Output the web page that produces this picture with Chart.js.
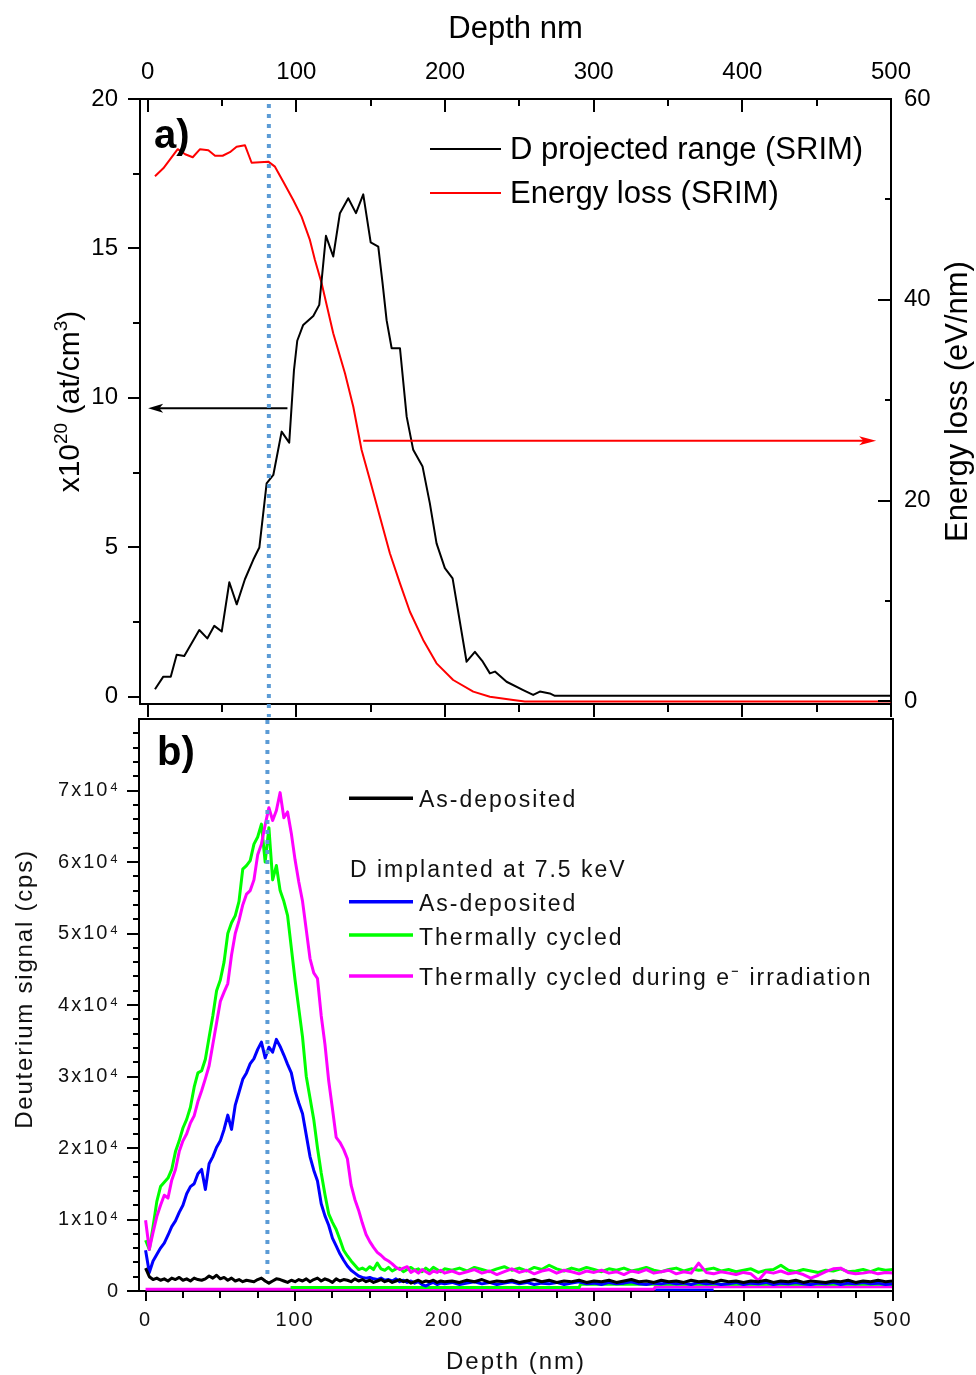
<!DOCTYPE html>
<html><head><meta charset="utf-8">
<script src="https://cdn.jsdelivr.net/npm/chart.js@4.4.1/dist/chart.umd.min.js"></script>
<style>
html,body{margin:0;padding:0;background:#fff;}
body{width:976px;height:1375px;position:relative;overflow:hidden;}
canvas{position:absolute;left:0;}
#c1{top:0;}
#c2{top:700px;}
</style></head><body>
<canvas id="c1" width="976" height="718"></canvas>
<canvas id="c2" width="976" height="675"></canvas>
<script>
const FONT = '"Liberation Sans", Arial, Helvetica, sans-serif';

// ---------- panel a) SRIM ----------
const rangeDepth = [4.9,10.5,15.5,19.5,24.6,34.7,40.1,44.8,49.8,54.9,59.9,65.4,71.0,75.1,80.0,84.5,90.1,95.2,98.4,100.6,104.6,111.4,115.4,119.9,124.8,129.3,134.9,140.1,145.0,150.0,155.1,158.0,160.7,164.1,169.7,174.2,178.6,184.9,189.8,194.3,199.9,205.1,214.5,220.1,225.0,230.2,233.6,241.4,252.6,259.3,263.8,270.5,273.9,500];
const rangeConc  = [0.25,0.67,0.67,1.40,1.36,2.23,1.95,2.37,2.18,3.83,3.09,3.93,4.58,4.99,7.14,7.42,8.87,8.50,10.93,11.91,12.44,12.74,13.11,15.42,14.73,16.18,16.68,16.18,16.81,15.20,15.06,13.83,12.60,11.66,11.66,9.37,8.26,7.70,6.47,5.13,4.30,3.96,1.17,1.50,1.20,0.78,0.84,0.50,0.22,0.06,0.17,0.11,0.03,0.03];
const lossDepth  = [4.9,10.5,20.2,25.2,30.3,35.2,40.8,45.3,50.4,55.3,59.8,65.4,69.9,81.1,85.6,91.2,97.9,103.5,109.1,112.5,117.0,124.8,132.7,138.3,143.9,149.5,156.2,162.9,169.7,176.4,185.3,194.3,205.5,219.0,230.2,245.9,253.7,500];
const lossVals   = [52.3,53.1,55.0,54.5,54.2,55.0,54.9,54.35,54.35,54.7,55.25,55.4,53.65,53.76,53.26,51.76,49.94,48.28,45.96,43.96,41.64,36.66,32.68,29.35,25.04,22.05,18.4,14.75,11.76,8.93,6.12,3.79,2.13,0.97,0.47,0.14,0.0,0.0];

const topXTicks   = [0,100,200,300,400,500];
const topXMinor   = [50,150,250,350,450];
const leftYTicks  = [0,5,10,15,20];
const leftYMinor  = [2.5,7.5,12.5,17.5];
const rightYTicks = [0,20,40,60];
const rightYMinor = [10,30,50];

const arrowRange = {from: 94, to: 0.3, y: 9.65};   // points to left axis
const arrowLoss  = {from: 145, to: 490, y: 25.97}; // points to right axis
const markerDepth = 81.5;

// ---------- panel b) NRA deuterium ----------
const depthB = [0,2.5,5,7.5,10,12.5,15,17.5,20,22.5,
 25,27.5,30,32.5,35,37.5,40,42.5,45,47.5,
 50,52.5,55,57.5,60,62.5,65,67.5,70,72.5,
 75,77.5,80,82.5,85,87.5,90,92.5,95,97.5,
 100,102.5,105,107.5,110,112.5,115,117.5,120,122.5,
 125,127.5,130,132.5,135,137.5,140,142.5,145,147.5,
 150,152.5,155,157.5,160,162.5,165,167.5,170,172.5,
 175,177.5,180,182.5,185,187.5,190,192.5,195,197.5,
 200,
 205,210,215,220,225,230,235,240,245,250,
 255,260,265,270,275,280,285,290,295,300,
 305,310,315,320,325,330,335,340,345,350,
 355,360,365,370,375,380,385,390,395,400,
 405,410,415,420,425,430,435,440,445,450,
 455,460,465,470,475,480,485,490,495,500];

const asDepNoImpl = [3200,2000,1600,1800,1500,1700,1400,1800,1600,1900,
 1500,1700,1400,1800,1600,1500,1700,2100,1800,2200,
 1700,1900,1500,1800,1400,1600,1300,1500,1400,1300,
 1600,1800,1400,1100,1400,1700,1600,1400,1200,1500,
 1300,1600,1400,1700,1300,1600,1800,1400,1700,1500,
 1200,1700,1400,1600,1500,1300,1700,1400,1600,1300,
 1500,1200,1400,1600,1300,1500,1200,1400,1600,1300,
 1500,1100,1300,1500,1200,1400,1300,1500,1200,1400,
 1300,
 1400,1200,1500,1300,1600,1200,1400,1300,1500,1200,
 1400,1600,1300,1500,1200,1400,1300,1500,1200,1400,
 1300,1500,1200,1400,1600,1300,1400,1200,1500,1300,
 1400,1200,1500,1300,1400,1200,1500,1300,1400,1200,
 1400,1300,1500,1200,1400,1300,1500,1200,1400,1300,
 1200,1400,1300,1500,1200,1400,1300,1500,1300,1400];

const asDepImpl = [5700,2600,4200,5100,6000,6700,7800,9000,9800,11000,
 12000,13600,14600,15000,16400,17000,14200,17800,18800,20100,
 21000,22600,24600,22600,26000,27800,29600,30500,31800,32500,
 33800,34800,32600,34100,33400,35200,34200,33000,31700,30500,
 28000,26300,24800,21800,18800,16900,15400,12200,10500,9200,
 7400,6300,5200,4300,3500,2900,2500,2100,1900,1800,
 1900,1700,1600,1800,1500,1600,1400,1700,1300,1500,
 1200,1400,1100,1300,900,700,1000,1200,900,1100,
 1000,
 1200,900,1100,1300,1000,1200,900,1100,1300,1000,
 1200,900,1100,1000,1200,900,1100,1300,1000,1100,
 900,1200,1000,1100,1300,1000,900,1100,1000,1200,
 1000,1100,900,1200,1000,1100,900,1000,1200,900,
 1100,1000,1200,900,1100,1000,1200,1000,900,1100,
 1000,1200,900,1100,1000,1200,1000,1100,900,1000];

const thermCycled = [7100,5800,9000,12500,14600,15200,15800,17000,19500,21000,
 22800,24000,25700,28500,30500,30800,32400,35500,38500,42000,
 43500,46000,50000,51500,52500,54500,59000,59500,60200,62500,
 63500,65300,60000,64800,57500,59500,56000,54500,52500,48000,
 43500,39500,35500,30000,27000,24000,20000,16500,13500,10800,
 9600,8600,7200,5700,4900,4200,3600,3000,3200,2900,
 3400,3000,3900,3100,2900,3300,2800,3100,3200,2700,
 3000,3300,2900,3100,2700,3200,2800,3300,3000,2700,
 3100,
 2900,3200,2800,3300,3000,2700,3100,3400,2900,3200,
 2800,3300,3000,3600,3100,2800,3200,2900,3300,3000,
 2700,3100,2900,3200,2800,3000,3300,2900,2700,3000,
 3200,2800,3100,2900,3000,3200,2800,3000,2700,2900,
 3100,2600,2900,3000,3600,2900,2700,3000,2800,2600,
 2900,2800,3100,2700,2800,3000,2700,3100,2900,3000];

const thermCycledIrr = [9900,5800,8200,10400,12000,13400,13000,15500,17000,19500,
 21000,22000,23500,24500,26500,28000,29700,31500,34500,37500,
 40500,41800,43000,47000,50000,51800,54000,55500,56000,57500,
 61000,62500,65200,67600,65800,67200,69700,66200,67000,64000,
 60300,57200,54500,50500,46500,44500,43700,38500,34500,29400,
 25500,21500,20800,19800,18500,14800,12800,11300,9500,7900,
 6900,6100,5400,5000,4500,4200,3800,3300,3000,3200,
 3400,2600,2900,2500,3000,2700,2400,2800,2600,2900,
 2500,
 2800,2400,2700,3000,2500,2800,2300,2700,3100,2600,
 2900,2400,2800,3000,2500,2900,2700,2400,2800,2600,
 2900,2500,2700,2300,2800,2600,3000,2500,2700,2900,
 2400,2700,2500,3900,2600,2400,2700,2500,2300,2600,
 2400,1500,2700,2500,2800,2400,2600,2300,1800,2200,
 2700,3100,3200,2600,2400,2500,2700,2400,2600,2500];

// flat near-zero traces visible along the bottom axis
const baseMagDepth = [0,340,341,500];
const baseMagVals  = [250,250,600,600];
const baseGrnDepth = [97,290,291,500];
const baseGrnVals  = [480,480,950,950];
const baseBluDepth = [341,380];
const baseBluVals  = [150,150];

const botXTicks = [0,100,200,300,400,500];
const botXMinor = [25,50,75,125,150,175,225,250,275,325,350,375,425,450,475];
const botYTicks = [0,10000,20000,30000,40000,50000,60000,70000];
const botYMinor = [2000,4000,6000,8000,12000,14000,16000,18000,22000,24000,26000,28000,32000,34000,36000,38000,
 42000,44000,46000,48000,52000,54000,56000,58000,62000,64000,66000,68000,72000,74000,76000,78000];

const legendA = ['D projected range (SRIM)','Energy loss (SRIM)'];
const legendB = ['As-deposited','D implanted at 7.5 keV','As-deposited','Thermally cycled','Thermally cycled during e\u207B irradiation'];

function xy(xs, ys){ return xs.map((x,i)=>({x:x, y:ys[i]})); }
function noPad(sc){ sc.paddingTop = 0; sc.paddingBottom = 0; sc.paddingLeft = 0; sc.paddingRight = 0; }

function ticksX(ctx, scale, vals, y, len){
  vals.forEach(v=>{ const p=Math.round(scale.getPixelForValue(v)); ctx.beginPath(); ctx.moveTo(p,y); ctx.lineTo(p,y+len); ctx.stroke(); });
}
function ticksY(ctx, scale, vals, x, len){
  vals.forEach(v=>{ const p=Math.round(scale.getPixelForValue(v)); ctx.beginPath(); ctx.moveTo(x,p); ctx.lineTo(x+len,p); ctx.stroke(); });
}
function arrowH(ctx, x1, x2, y, color, hl, hw){
  const dir = x2 > x1 ? 1 : -1;
  ctx.strokeStyle = color; ctx.fillStyle = color; ctx.lineWidth = 2;
  ctx.beginPath(); ctx.moveTo(x1,y); ctx.lineTo(x2 - dir*hl*0.6,y); ctx.stroke();
  ctx.beginPath(); ctx.moveTo(x2,y); ctx.lineTo(x2-dir*hl,y-hw); ctx.lineTo(x2-dir*hl*0.75,y); ctx.lineTo(x2-dir*hl,y+hw); ctx.closePath(); ctx.fill();
}
// rotated text made of [text, isSuperscript] pieces, centred at (cx, cy)
function rotatedRich(ctx, pieces, cx, cy, size, supSize, supRise){
  ctx.save();
  ctx.translate(cx, cy); ctx.rotate(-Math.PI/2);
  ctx.textAlign = 'left'; ctx.textBaseline = 'alphabetic';
  let total = 0;
  const w = pieces.map(p=>{ ctx.font = (p[1]?supSize:size) + 'px ' + FONT; const m = ctx.measureText(p[0]).width; total += m; return m; });
  let x = -total/2;
  pieces.forEach((p,i)=>{
    ctx.font = (p[1]?supSize:size) + 'px ' + FONT;
    ctx.fillText(p[0], x, p[1] ? 0.36*size - supRise : 0.36*size);
    x += w[i];
  });
  ctx.restore();
}

const lineDS = (data, color, width, order, axis) => ({
  data, borderColor: color, backgroundColor: color, borderWidth: width, pointRadius: 0,
  tension: 0, fill: false, order, borderJoinStyle: 'round', yAxisID: axis
});

// ================= TOP CHART =================
const topPlugin = {
  id: 'topDecor',
  afterDraw(chart){
    const {ctx, chartArea: a, scales: s} = chart;
    ctx.save();
    ctx.strokeStyle = '#000'; ctx.lineWidth = 2; ctx.setLineDash([]);
    ticksX(ctx, s.xTop, topXTicks, a.top, 13);
    ticksX(ctx, s.xTop, topXMinor, a.top, 7);
    ticksX(ctx, s.xBot, topXTicks, a.bottom, 13);
    ticksX(ctx, s.xBot, topXMinor, a.bottom, 8);
    ticksY(ctx, s.yL, leftYTicks, a.left, -12);
    ticksY(ctx, s.yL, leftYMinor, a.left, -7);
    ticksY(ctx, s.yR, rightYTicks, a.right, -13);
    ticksY(ctx, s.yR, rightYMinor, a.right, -6);

    // arrows
    arrowH(ctx, s.xTop.getPixelForValue(arrowRange.from), s.xTop.getPixelForValue(arrowRange.to),
      s.yL.getPixelForValue(arrowRange.y), '#000', 15, 4.5);
    arrowH(ctx, s.xTop.getPixelForValue(arrowLoss.from), s.xTop.getPixelForValue(arrowLoss.to),
      s.yR.getPixelForValue(arrowLoss.y), '#ff0000', 17, 4.5);

    // dotted marker
    const xm = s.xTop.getPixelForValue(markerDepth);
    ctx.strokeStyle = '#5B9BD5'; ctx.lineWidth = 4; ctx.setLineDash([4,6]);
    ctx.beginPath(); ctx.moveTo(xm, a.top+5); ctx.lineTo(xm, chart.height-1); ctx.stroke();
    ctx.setLineDash([]);

    // legend
    ctx.lineWidth = 2;
    ctx.strokeStyle = '#000'; ctx.beginPath(); ctx.moveTo(430,149); ctx.lineTo(501,149); ctx.stroke();
    ctx.strokeStyle = '#ff0000'; ctx.beginPath(); ctx.moveTo(430,193); ctx.lineTo(501,193); ctx.stroke();
    ctx.fillStyle = '#000'; ctx.font = '31px ' + FONT; ctx.textAlign = 'left'; ctx.textBaseline = 'alphabetic';
    ctx.fillText(legendA[0], 510, 159);
    ctx.fillText(legendA[1], 510, 203);

    // panel label
    ctx.font = 'bold 40px ' + FONT;
    ctx.fillText('a)', 154, 148);

    // left axis title with superscripts
    ctx.fillStyle = '#000';
    rotatedRich(ctx, [['x10',false],['20',true],[' (at/cm',false],['3',true],[')',false]], 68, 401.5, 30, 19, 12);

    // right axis title
    ctx.translate(958, 401.5); ctx.rotate(-Math.PI/2);
    ctx.font = '31px ' + FONT; ctx.textAlign = 'center'; ctx.textBaseline = 'middle';
    ctx.fillText('Energy loss (eV/nm)', 0, 0);
    ctx.restore();
  }
};

const tickFontA = {family: FONT, size: 24};
new Chart(document.getElementById('c1'), {
  type: 'line',
  data: { datasets: [
    Object.assign(lineDS(xy(rangeDepth, rangeConc), '#000', 2, 0, 'yL'), {xAxisID:'xTop'}),
    Object.assign(lineDS(xy(lossDepth, lossVals), '#ff0000', 2, 1, 'yR'), {xAxisID:'xTop'})
  ]},
  options: {
    responsive: false, animation: false, devicePixelRatio: 1, events: [],
    layout: {padding: 0},
    plugins: {legend: {display: false}, tooltip: {enabled: false}},
    scales: {
      xTop: { type: 'linear', position: 'top', min: -5.18, max: 500,
        afterBuildTicks: sc => { sc.ticks = topXTicks.map(v=>({value:v})); },
        afterFit: sc => { sc.height = 99; noPad(sc); },
        ticks: {font: tickFontA, color: '#000', padding: 12, maxRotation: 0, autoSkip: false},
        grid: {display: false, drawTicks: false},
        border: {display: true, color: '#000', width: 2},
        title: {display: true, text: 'Depth nm', color: '#000', font: {family: FONT, size: 31}, padding: {top: 11, bottom: 0}}
      },
      xBot: { type: 'linear', position: 'bottom', min: -5.18, max: 500,
        afterFit: sc => { sc.height = 14; noPad(sc); },
        ticks: {display: false}, grid: {display: false, drawTicks: false},
        border: {display: true, color: '#000', width: 2}
      },
      yL: { type: 'linear', position: 'left', min: -0.245, max: 20,
        afterBuildTicks: sc => { sc.ticks = leftYTicks.map(v=>({value:v})); },
        afterFit: sc => { sc.width = 140; noPad(sc); },
        ticks: {font: tickFontA, color: '#000', padding: 22, autoSkip: false},
        grid: {display: false, drawTicks: false},
        border: {display: true, color: '#000', width: 2}
      },
      yR: { type: 'linear', position: 'right', min: -0.26, max: 60,
        afterBuildTicks: sc => { sc.ticks = rightYTicks.map(v=>({value:v})); },
        afterFit: sc => { sc.width = 85; noPad(sc); },
        ticks: {font: tickFontA, color: '#000', padding: 13, autoSkip: false},
        grid: {display: false, drawTicks: false},
        border: {display: true, color: '#000', width: 2}
      }
    }
  },
  plugins: [topPlugin]
});

// ================= BOTTOM CHART =================
const botPlugin = {
  id: 'botDecor',
  beforeDraw(chart){ chart.ctx.letterSpacing = '2px'; },
  afterDraw(chart){
    const {ctx, chartArea: a, scales: s} = chart;
    ctx.save();
    ctx.strokeStyle = '#000'; ctx.lineWidth = 2; ctx.setLineDash([]);
    // frame top & right
    ctx.beginPath(); ctx.moveTo(a.left-1, a.top); ctx.lineTo(a.right, a.top); ctx.lineTo(a.right, a.bottom+1); ctx.stroke();
    ticksX(ctx, s.x, botXTicks, a.bottom, 10);
    ticksX(ctx, s.x, botXMinor, a.bottom, 7);
    ticksY(ctx, s.y, botYTicks, a.left, -12);
    ticksY(ctx, s.y, botYMinor, a.left, -6);

    // dotted marker
    const xm = s.x.getPixelForValue(markerDepth);
    ctx.strokeStyle = '#5B9BD5'; ctx.lineWidth = 4; ctx.setLineDash([4,6]);
    ctx.beginPath(); ctx.moveTo(xm, a.top+1); ctx.lineTo(xm, a.bottom-14); ctx.stroke();
    ctx.setLineDash([]);

    // legend
    const lx1 = 349, lx2 = 413;
    const legendRows = [
      {color:'#000000', ly:98.3, text:legendB[0], tx:419, ty:106.7},
      {color:null, ly:0, text:legendB[1], tx:350, ty:176.7},
      {color:'#0000ff', ly:201.7, text:legendB[2], tx:419, ty:210.7},
      {color:'#00ff00', ly:235, text:legendB[3], tx:419, ty:245},
      {color:'#ff00ff', ly:276, text:legendB[4], tx:419, ty:285}
    ];
    ctx.font = '23px ' + FONT; ctx.textAlign = 'left'; ctx.textBaseline = 'alphabetic';
    legendRows.forEach(r=>{
      if (r.color){
        ctx.strokeStyle = r.color; ctx.lineWidth = 3.5;
        ctx.beginPath(); ctx.moveTo(lx1, r.ly); ctx.lineTo(lx2, r.ly); ctx.stroke();
      }
      ctx.fillStyle = '#111';
      ctx.fillText(r.text, r.tx, r.ty);
    });

    // panel label
    ctx.letterSpacing = '0px';
    ctx.fillStyle = '#000'; ctx.font = 'bold 40px ' + FONT;
    ctx.fillText('b)', 157, 65);

    // y title
    ctx.letterSpacing = '1.8px';
    ctx.translate(25, 289); ctx.rotate(-Math.PI/2);
    ctx.font = '24px ' + FONT; ctx.textAlign = 'center'; ctx.textBaseline = 'middle';
    ctx.fillStyle = '#111';
    ctx.fillText('Deuterium signal (cps)', 0, 0);
    ctx.restore();
  }
};

const tickFontB = {family: FONT, size: 20};
new Chart(document.getElementById('c2'), {
  type: 'line',
  data: { datasets: [
    lineDS(xy(baseMagDepth, baseMagVals), '#ff00ff', 3, 7, 'y'),
    lineDS(xy(baseGrnDepth, baseGrnVals), '#00ff00', 3, 6, 'y'),
    lineDS(xy(baseBluDepth, baseBluVals), '#0000ff', 3, 8, 'y'),
    lineDS(xy(depthB, thermCycled), '#00ff00', 3, 3, 'y'),
    lineDS(xy(depthB, asDepImpl), '#0000ff', 3, 2, 'y'),
    lineDS(xy(depthB, thermCycledIrr), '#ff00ff', 3, 1, 'y'),
    lineDS(xy(depthB, asDepNoImpl), '#000000', 3, 0, 'y')
  ]},
  options: {
    responsive: false, animation: false, devicePixelRatio: 1, events: [],
    layout: {padding: {top: 19, right: 83, left: 0, bottom: 0}},
    plugins: {legend: {display: false}, tooltip: {enabled: false}},
    scales: {
      x: { type: 'linear', position: 'bottom', min: -4.4, max: 500,
        afterBuildTicks: sc => { sc.ticks = botXTicks.map(v=>({value:v})); },
        afterFit: sc => { sc.height = 84; noPad(sc); },
        ticks: {font: tickFontB, color: '#111', padding: 17, maxRotation: 0, autoSkip: false},
        grid: {display: false, drawTicks: false},
        border: {display: true, color: '#000', width: 2},
        title: {display: true, text: 'Depth (nm)', color: '#111', font: {family: FONT, size: 24}, padding: {top: 0, bottom: -2}}
      },
      y: { type: 'linear', position: 'left', min: 0, max: 80000,
        afterBuildTicks: sc => { sc.ticks = botYTicks.map(v=>({value:v})); },
        afterFit: sc => { sc.width = 139; noPad(sc); },
        ticks: {font: tickFontB, color: '#111', padding: 19, autoSkip: false,
          callback: v => v === 0 ? '0' : (v/10000) + 'x10\u2074'},
        grid: {display: false, drawTicks: false},
        border: {display: true, color: '#000', width: 2}
      }
    }
  },
  plugins: [botPlugin]
});
</script></body></html>
